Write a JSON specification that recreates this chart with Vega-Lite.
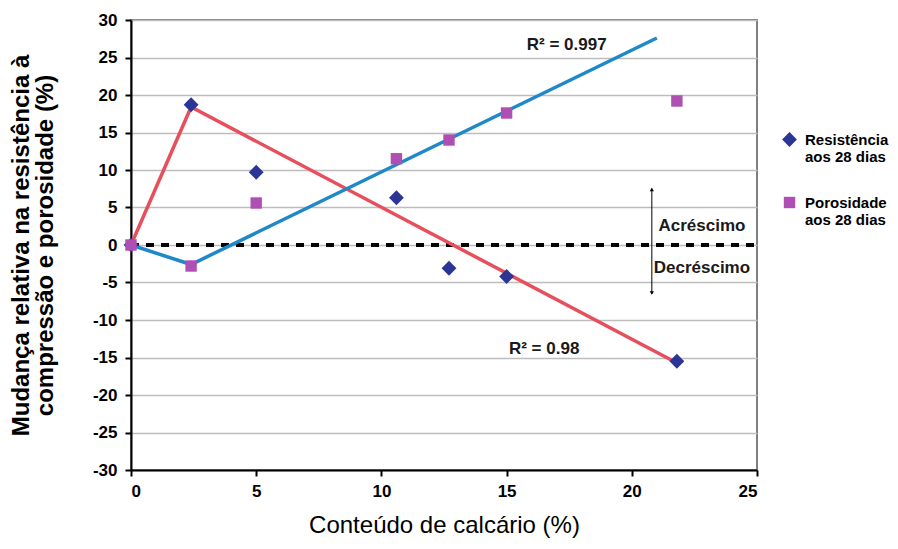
{
  "$schema": "https://vega.github.io/schema/vega-lite/v6.json",
  "width": 626,
  "height": 450,
  "autosize": {"type": "none"},
  "padding": {"left": 131, "top": 20, "right": 141, "bottom": 79},
  "background": "white",
  "config": {
    "font": "Liberation Sans",
    "view": {"stroke": "#7f7f7f", "strokeWidth": 2}
  },
  "datasets": {
    "pts": [
      {"serie": "Resistência|aos 28 dias", "x": 0, "y": 0},
      {"serie": "Resistência|aos 28 dias", "x": 2.4, "y": 18.7},
      {"serie": "Resistência|aos 28 dias", "x": 5.0, "y": 9.7},
      {"serie": "Resistência|aos 28 dias", "x": 10.6, "y": 6.3},
      {"serie": "Resistência|aos 28 dias", "x": 12.7, "y": -3.1},
      {"serie": "Resistência|aos 28 dias", "x": 15.0, "y": -4.2},
      {"serie": "Resistência|aos 28 dias", "x": 21.8, "y": -15.5},
      {"serie": "Porosidade|aos 28 dias", "x": 0, "y": 0},
      {"serie": "Porosidade|aos 28 dias", "x": 2.4, "y": -2.8},
      {"serie": "Porosidade|aos 28 dias", "x": 5.0, "y": 5.6},
      {"serie": "Porosidade|aos 28 dias", "x": 10.6, "y": 11.5},
      {"serie": "Porosidade|aos 28 dias", "x": 12.7, "y": 14.0},
      {"serie": "Porosidade|aos 28 dias", "x": 15.0, "y": 17.6},
      {"serie": "Porosidade|aos 28 dias", "x": 21.8, "y": 19.2}
    ],
    "lines": [
      {"linha": "res", "ord": 1, "x": 0, "y": 0},
      {"linha": "res", "ord": 2, "x": 2.4, "y": 18.4},
      {"linha": "res", "ord": 3, "x": 21.9, "y": -15.9},
      {"linha": "por", "ord": 1, "x": 0, "y": 0},
      {"linha": "por", "ord": 2, "x": 2.4, "y": -2.6},
      {"linha": "por", "ord": 3, "x": 21.0, "y": 27.6}
    ],
    "zero": [{"x": 0, "y": 0}, {"x": 25, "y": 0}],
    "arrow": [{"x": 20.8, "y": 7.5, "y2": -6.5}],
    "headUp": [{"x": 20.8, "y": 7.4}],
    "headDown": [{"x": 20.8, "y": -6.4}],
    "labels": [
      {"x": 17.4, "y": 26.7, "t": "R² = 0.997"},
      {"x": 16.5, "y": -13.9, "t": "R² = 0.98"},
      {"x": 22.8, "y": 2.5, "t": "Acréscimo"},
      {"x": 22.8, "y": -3.1, "t": "Decréscimo"}
    ]
  },
  "encoding": {
    "x": {
      "field": "x", "type": "quantitative",
      "scale": {"domain": [0, 25], "nice": false},
      "axis": {
        "values": [0, 5, 10, 15, 20, 25],
        "title": "Conteúdo de calcário (%)",
        "titleFontSize": 24, "titleFontWeight": "normal", "titleColor": "black",
        "titlePadding": 14,
        "labelFontSize": 17, "labelFontWeight": "bold", "labelColor": "black",
        "labelPadding": 7, "labelOverlap": false,
        "domainColor": "black", "domainWidth": 2, "tickColor": "black", "tickWidth": 2, "tickSize": 6,
        "grid": false
      }
    },
    "y": {
      "field": "y", "type": "quantitative",
      "scale": {"domain": [-30, 30], "nice": false},
      "axis": {
        "values": [-30, -25, -20, -15, -10, -5, 0, 5, 10, 15, 20, 25, 30],
        "labelExpr": "toString(datum.value)",
        "title": ["Mudança relativa na resistência à", "compressão e porosidade (%)"],
        "titleFontSize": 24, "titleFontWeight": "bold", "titleColor": "black",
        "titlePadding": 35, "titleLineHeight": 24,
        "labelFontSize": 17, "labelFontWeight": "bold", "labelColor": "black",
        "labelPadding": 8, "labelOverlap": false,
        "domainColor": "black", "domainWidth": 2, "tickColor": "black", "tickWidth": 2, "tickSize": 6,
        "grid": true, "gridColor": "#bdbdbd", "gridWidth": 1.5
      }
    }
  },
  "layer": [
    {
      "data": {"name": "zero"},
      "mark": {"type": "line", "color": "black", "strokeWidth": 4, "strokeDash": [8, 7]}
    },
    {
      "data": {"name": "lines"},
      "transform": [{"filter": "datum.linha === 'res'"}],
      "mark": {"type": "line", "strokeWidth": 3.5, "color": "#e84f5c"},
      "encoding": {"order": {"field": "ord"}}
    },
    {
      "data": {"name": "lines"},
      "transform": [{"filter": "datum.linha === 'por'"}],
      "mark": {"type": "line", "strokeWidth": 3.5, "color": "#1f88c8"},
      "encoding": {"order": {"field": "ord"}}
    },
    {
      "data": {"name": "pts"},
      "mark": {"type": "point", "filled": true, "opacity": 1},
      "encoding": {
        "shape": {
          "field": "serie", "type": "nominal",
          "scale": {"domain": ["Resistência|aos 28 dias", "Porosidade|aos 28 dias"], "range": ["diamond", "square"]},
          "legend": {
            "title": null, "orient": "none", "legendX": 651, "legendY": 112,
            "labelExpr": "split(datum.label, '|')",
            "labelFontSize": 15, "labelFontWeight": "bold", "labelColor": "black",
            "labelLimit": 200, "rowPadding": 30, "labelOffset": 8,
            "symbolStrokeWidth": 0
          }
        },
        "color": {
          "field": "serie", "type": "nominal",
          "scale": {"domain": ["Resistência|aos 28 dias", "Porosidade|aos 28 dias"], "range": ["#2b3595", "#b04fb3"]}
        },
        "size": {
          "field": "serie", "type": "nominal",
          "scale": {"domain": ["Resistência|aos 28 dias", "Porosidade|aos 28 dias"], "range": [220, 130]}
        }
      }
    },
    {
      "data": {"name": "arrow"},
      "mark": {"type": "rule", "color": "black", "strokeWidth": 1},
      "encoding": {"y2": {"field": "y2"}}
    },
    {
      "data": {"name": "headUp"},
      "mark": {"type": "point", "filled": true, "color": "black", "size": 18, "opacity": 1, "shape": "triangle-up"}
    },
    {
      "data": {"name": "headDown"},
      "mark": {"type": "point", "filled": true, "color": "black", "size": 18, "opacity": 1, "shape": "triangle-down"}
    },
    {
      "data": {"name": "labels"},
      "mark": {"type": "text", "fontSize": 17, "fontWeight": "bold", "color": "#1a1a1a", "align": "center", "baseline": "middle"},
      "encoding": {"text": {"field": "t"}}
    }
  ]
}
